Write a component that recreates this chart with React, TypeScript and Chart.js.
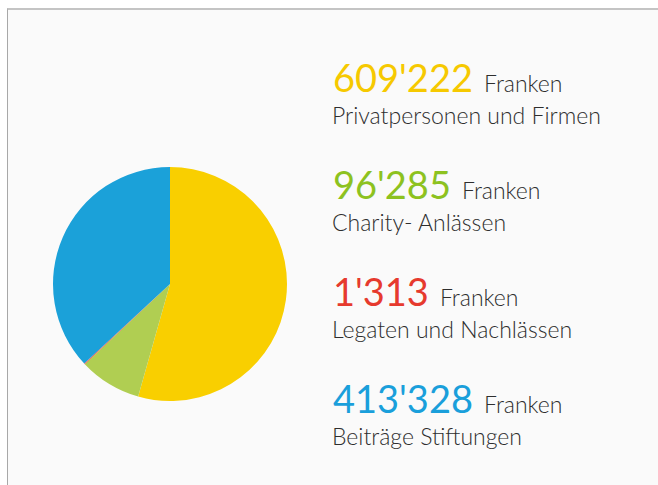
import { useEffect, useRef, Fragment } from "react";
import { Chart, registerables } from "chart.js";

Chart.register(...registerables);

const categories = [
  "Privatpersonen und Firmen",
  "Charity- Anlässen",
  "Legaten und Nachlässen",
  "Beiträge Stiftungen",
];
const values = [609222, 96285, 1313, 413328];
const unitLabel = "Franken";
const sliceColors = ["#f9cf00", "#b0ce52", "#ee5a4f", "#1ba1d9"];
const textColors = ["#f6c900", "#8dc21f", "#e63a2e", "#1a9fdb"];

function formatCHF(v: number): string {
  return String(v).replace(/\B(?=(\d{3})+(?!\d))/g, "'");
}

export default function App() {
  const canvasRef = useRef<HTMLCanvasElement | null>(null);

  useEffect(() => {
    const body = document.body;
    const prevMargin = body.style.margin;
    const prevOverflow = document.documentElement.style.overflow;
    body.style.margin = "0";
    document.documentElement.style.overflow = "hidden";
    if (!canvasRef.current) return;
    const chart = new Chart(canvasRef.current, {
      type: "pie",
      data: {
        labels: categories,
        datasets: [
          {
            data: values,
            backgroundColor: sliceColors,
            borderWidth: 0,
          },
        ],
      },
      options: {
        animation: false,
        responsive: false,
        maintainAspectRatio: false,
        layout: { padding: 3 },
        plugins: {
          legend: { display: false },
          tooltip: { enabled: false },
        },
      },
    });
    return () => {
      chart.destroy();
      body.style.margin = prevMargin;
      document.documentElement.style.overflow = prevOverflow;
    };
  }, []);

  return (
    <div style={{ position: "relative", width: 658, height: 485, background: "#ffffff", overflow: "hidden" }}>
      <div
        style={{
          position: "absolute",
          left: 7,
          top: 8,
          width: 660,
          height: 485,
          boxSizing: "border-box",
          borderTop: "2px solid #c4c4c4",
          borderLeft: "1px solid #a8a8a8",
          background: "#fafafa",
        }}
      />
      <div
        style={{ position: "absolute", left: 50, top: 164, width: 240, height: 240 }}
      >
        <canvas ref={canvasRef} width={240} height={240} />
      </div>
      {categories.map((cat, i) => (
        <Fragment key={cat}>
          <div
            style={{
              position: "absolute",
              left: 333,
              top: 57 + i * 107,
              whiteSpace: "nowrap",
              fontFamily: "Lato, sans-serif",
              fontSize: 38,
              lineHeight: "40px",
              fontWeight: 400,
              color: textColors[i],
            }}
          >
            {formatCHF(values[i])}
            <span
              style={{
                fontSize: 23,
                fontWeight: 300,
                color: "#2e2e2e",
                marginLeft: 11,
              }}
            >
              {unitLabel}
            </span>
          </div>
          <div
            style={{
              position: "absolute",
              left: 332,
              top: 104 + i * 107,
              whiteSpace: "nowrap",
              fontFamily: "Lato, sans-serif",
              fontSize: 23,
              lineHeight: "23px",
              fontWeight: 300,
              color: "#2e2e2e",
            }}
          >
            {cat}
          </div>
        </Fragment>
      ))}
    </div>
  );
}
